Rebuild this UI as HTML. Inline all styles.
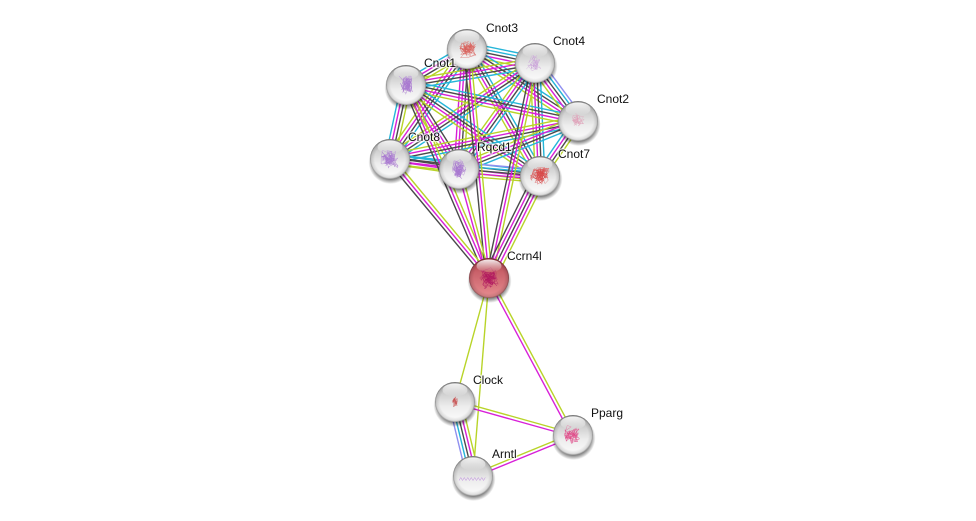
<!DOCTYPE html>
<html>
<head>
<meta charset="utf-8">
<style>
html,body{margin:0;padding:0;background:#fff;width:976px;height:521px;overflow:hidden}
svg{display:block}
text{font-family:"Liberation Sans",sans-serif;font-size:12px;fill:#111;paint-order:stroke;stroke:rgba(255,255,255,.7);stroke-width:2.5px;stroke-linejoin:round}
</style>
</head>
<body>
<svg xmlns="http://www.w3.org/2000/svg" width="976" height="521" viewBox="0 0 976 521">
<defs>
<linearGradient id="g" x1="0" y1="0" x2="0" y2="1">
<stop offset="0" stop-color="#b0b0b0"/>
<stop offset=".3" stop-color="#d0d0d0"/>
<stop offset=".6" stop-color="#ececec"/>
<stop offset="1" stop-color="#fdfdfd"/>
</linearGradient>
<linearGradient id="r" x1="0" y1="0" x2="0" y2="1">
<stop offset="0" stop-color="#a83c44"/>
<stop offset=".35" stop-color="#c9616a"/>
<stop offset=".7" stop-color="#d9787e"/>
<stop offset="1" stop-color="#e88e92"/>
</linearGradient>
<radialGradient id="rim" cx="50%" cy="50%" r="50%">
<stop offset=".76" stop-color="#000" stop-opacity="0"/>
<stop offset=".93" stop-color="#000" stop-opacity=".12"/>
<stop offset="1" stop-color="#000" stop-opacity=".42"/>
</radialGradient>
<linearGradient id="h" x1="0" y1="0" x2="0" y2="1">
<stop offset="0" stop-color="#fff" stop-opacity=".9"/>
<stop offset="1" stop-color="#fff" stop-opacity="0"/>
</linearGradient>
<radialGradient id="s"><stop offset=".78" stop-color="#000" stop-opacity=".5"/><stop offset="1" stop-color="#000" stop-opacity="0"/></radialGradient>
</defs>
<g id="edges" fill="none" stroke-width="1.4"></g>
<g id="nodes"></g>
<text x="486" y="32">Cnot3</text>
<text x="553" y="45">Cnot4</text>
<text x="424" y="67">Cnot1</text>
<text x="597" y="103">Cnot2</text>
<text x="408" y="141">Cnot8</text>
<text x="477" y="151">Rqcd1</text>
<text x="558" y="158">Cnot7</text>
<text x="507" y="260">Ccrn4l</text>
<text x="473" y="384">Clock</text>
<text x="591" y="417">Pparg</text>
<text x="492" y="458">Arntl</text>
</svg>
<script>
var K='#4a4a4a',M='#d81fd8',Y='#b8d428',C='#25b5d8',B='#8f8ff0';
var N={
 c3:[467,49,'#d9605a',.7],c4:[535,63,'#c9a0d8',.3],c1:[406,85,'#a878d0',.85],c2:[578,121,'#e0a0b8',.3],
 c8:[390,159,'#a878d0',.85],rq:[459,169,'#a878d0',.9],c7:[540,176,'#d84848',1],cc:[489,278,'#b01860',.9],
 cl:[455,402,'#c85050',.3],pp:[573,435,'#e04888',.6],ar:[473,476,'#a860d8',.5]};
var E=[
['c3','c4',[C,C,K,M,Y]],['c3','c1',[Y,K,M,C]],['c3','c2',[C,K,M,Y]],['c3','c8',[C,K,M,Y]],['c3','rq',[Y,K,M,M]],['c3','c7',[C,K,M,Y]],
['c4','c1',[C,K,M,Y]],['c4','c2',[B,C,K,M,Y]],['c4','c8',[C,K,M,Y]],['c4','rq',[C,K,M,Y]],['c4','c7',[C,K,M,Y]],
['c1','c2',[C,K,M,Y]],['c1','c8',[Y,K,M,C]],['c1','rq',[K,M,M,Y]],['c1','c7',[C,K,M,Y]],
['c2','c8',[C,K,M,Y]],['c2','rq',[C,K,M,Y]],['c2','c7',[Y,K,M,C]],
['c8','rq',[C,K,M,Y]],['c8','c7',[C,K,M,Y]],['rq','c7',[B,C,K,M,Y]],
['cc','c1',[K,M,Y]],['cc','c3',[K,M,Y]],['cc','c4',[K,M,Y]],
['cc','c8',[K,M,Y]],['cc','rq',[M,Y]],['cc','c7',[K,M,K,M,Y]],
['cc','cl',[Y]],['cc','ar',[Y]],['cc','pp',[Y,M]],
['cl','pp',[Y,M]],['ar','pp',[Y,M]],['ar','cl',[B,C,K,M,Y]]
];
var ns='http://www.w3.org/2000/svg';
function el(p,t,a){var e=document.createElementNS(ns,t);for(var k in a)e.setAttribute(k,a[k]);p.appendChild(e);return e}
var eg=document.getElementById('edges');
E.forEach(function(e){
 var a=N[e[0]],b=N[e[1]],dx=b[0]-a[0],dy=b[1]-a[1],l=Math.hypot(dx,dy),nx=-dy/l,ny=dx/l,c=e[2],sp=3.2;
 c.forEach(function(col,i){
  var o=(i-(c.length-1)/2)*sp;
  el(eg,'line',{x1:(a[0]+nx*o).toFixed(1),y1:(a[1]+ny*o).toFixed(1),x2:(b[0]+nx*o).toFixed(1),y2:(b[1]+ny*o).toFixed(1),stroke:col});
 });
});
var seed=11;function R(){seed=(seed*16807)%2147483647;return seed/2147483647}
var ng=document.getElementById('nodes');
Object.keys(N).forEach(function(k){
 var n=N[k],x=n[0],y=n[1],q=20;
 el(ng,'circle',{cx:x+.5,cy:y+3,r:q+2,fill:'url(#s)'});
 el(ng,'circle',{cx:x,cy:y,r:q,fill:k=='cc'?'url(#r)':'url(#g)'});
 el(ng,'circle',{cx:x,cy:y,r:q,fill:'url(#rim)'});
 var d='',px=x,py=y,count=k=='ar'?16:Math.round(170*n[3]);
 var rx=13,ry=14;
 if(k=='c1'||k=='rq'){rx=10;ry=15}
 if(k=='cl'){rx=4;ry=9}
 for(var i=0;i<count;i++){
  var tx,ty;
  if(k=='ar'){tx=x-14+28*i/count;ty=y+3+(i%2?-1.5:1.5)}
  else{
   tx=x+(R()-.5)*2*rx;ty=y+(R()-.5)*2*ry;
   tx=px+(tx-px)*.45;ty=py+(ty-py)*.45;
  }
  d+=(i?'L':'M')+tx.toFixed(1)+' '+ty.toFixed(1);px=tx;py=ty;
 }
 el(ng,'path',{d:d,fill:'none',stroke:n[2],'stroke-width':.5,'stroke-opacity':.7});
 el(ng,'ellipse',{cx:x,cy:y-12,rx:12.5,ry:6.5,fill:'url(#h)'});
});
</script>
</body>
</html>
